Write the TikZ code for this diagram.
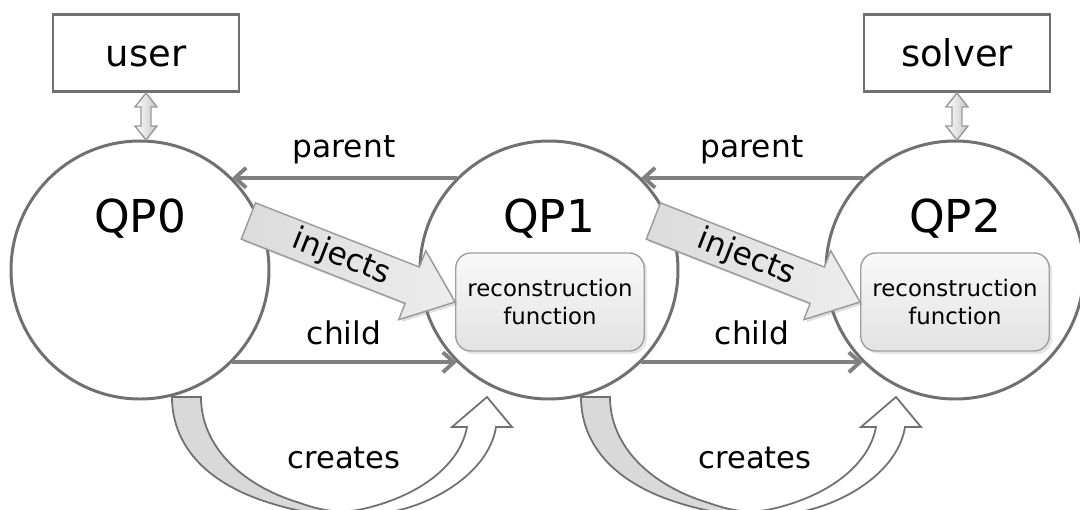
\documentclass[tikz,border=0pt]{standalone}
\usepackage{fontspec}
\setmainfont{DejaVu Sans}
\usetikzlibrary{arrows.meta,shadows}

\definecolor{linegray}{RGB}{112,112,112}
\definecolor{relgray}{RGB}{128,128,128}

% outline of the curved "creates" arrow, relative to the centre of a QP circle
\newcommand\createsarc{(32,127) .. controls (32,172) and (62,212) .. (130,233)
  .. controls (180,249) and (230,249) .. (267,238)
  .. controls (310,225) and (350,195) .. (356,157)
  -- (372,157) -- (347,127) -- (312,157) -- (327,157)
  .. controls (320,195) and (280,225) .. (227,238)
  .. controls (200,245) and (180,240) .. (160,233)
  .. controls (100,215) and (61,175) .. (61,127) -- cycle}

\tikzset{
  qp/.style={circle, draw=linegray, line width=0.85pt, minimum size=25.8mm, inner sep=0pt},
  qptext/.style={anchor=base, font=\fontsize{12.9}{15}\selectfont},
  actor/.style={draw=linegray, line width=0.85pt, minimum width=18.6mm, minimum height=7.7mm,
    font=\fontsize{10.5}{12}\selectfont, text height=0.76em, text depth=0pt},
  recbox/.style={rounded corners=1.5mm, draw=gray!75, line width=0.4pt, top color=gray!5,
    bottom color=gray!22, minimum width=18.8mm, minimum height=9.8mm, align=center,
    font=\fontsize{6.5}{8}\selectfont,
    drop shadow={opacity=0.2, shadow xshift=0.3mm, shadow yshift=-0.3mm}},
  rel/.style={draw=relgray, line width=1.1pt, -{Straight Barb[length=1.1mm,width=2mm]}},
  lbl/.style={anchor=base, font=\fontsize{8.9}{10}\selectfont},
  injarrow/.style={draw=gray!80, line width=0.4pt, left color=gray!28, right color=gray!14,
    drop shadow={opacity=0.25, shadow xshift=0.25mm, shadow yshift=-0.25mm}},
  dblarrow/.style={draw=gray!80, line width=0.4pt, left color=white, right color=gray!45},
  createline/.style={draw=linegray, line width=0.5pt}
}

\begin{document}
\begin{tikzpicture}[x=0.1mm, y=-0.1mm]
\useasboundingbox (0,0) rectangle (1080,510);

% the three problems
\node[qp] (qp0) at (140,270) {};
\node[qp] (qp1) at (549,270) {};
\node[qp] (qp2) at (955,270) {};
\node[qptext] (t0) at (140,232) {QP0};
\node[qptext] (t1) at (549,232) {QP1};
\node[qptext] (t2) at (955,232) {QP2};

% user and solver
\node[actor] (user) at (146,53) {user};
\node[actor] (solver) at (957,53) {solver};
\foreach \a in {user, solver}{
  \begin{scope}[shift={(\a.south)}]
    \draw[dblarrow] (0,0) -- (11,14) -- (5,14) -- (5,33) -- (11,33) -- (0,47)
      -- (-11,33) -- (-5,33) -- (-5,14) -- (-11,14) -- cycle;
  \end{scope}
}

% parent / child links
\draw[rel] (qp1.135) -- (qp0.45);
\draw[rel] (qp2.135) -- (qp1.45);
\draw[rel] (qp0.-45) -- (qp1.-135);
\draw[rel] (qp1.-45) -- (qp2.-135);
\node[lbl] (par1) at (344,157) {parent};
\node[lbl] (par2) at (752,157) {parent};
\node[lbl] (chi1) at (344,344) {child};
\node[lbl] (chi2) at (752,344) {child};

% reconstruction functions
\node[recbox] (rec1) at (550,302) {reconstruction\\function};
\node[recbox] (rec2) at (955,302) {reconstruction\\function};

% injects
\foreach \r in {rec1, rec2}{
  \begin{scope}[shift={(\r.west)}, rotate=-21.4]
    \path[injarrow] (0,0) -- (-46,37) -- (-46,19.5) -- (-222,19.5) -- (-222,-19.5)
      -- (-46,-19.5) -- (-46,-37) -- cycle;
    \node[lbl, anchor=center, rotate=-21.4] at (-122,0) {injects};
  \end{scope}
}

% creates
\foreach \q in {qp0, qp1}{
  \begin{scope}[shift={(\q.center)}]
    \begin{scope}
      \clip (0,100) rectangle (198,300);
      \fill[gray!30] \createsarc;
    \end{scope}
    \draw[createline] \createsarc;
  \end{scope}
}
\node[lbl, font=\fontsize{8.7}{10}\selectfont] (cr1) at (344,468) {creates};
\node[lbl, font=\fontsize{8.7}{10}\selectfont] (cr2) at (755,468) {creates};

\end{tikzpicture}
\end{document}
